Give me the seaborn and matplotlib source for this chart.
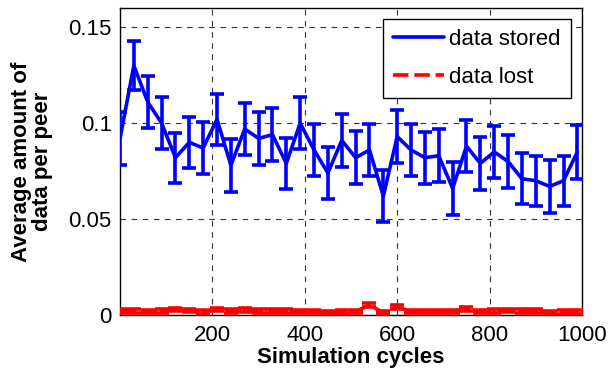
import numpy as np
import pandas as pd
import matplotlib
matplotlib.use("Agg")
import matplotlib.pyplot as plt
import seaborn as sns

cycles = list(range(0, 1000, 30))
stored = [0.092, 0.130, 0.111, 0.100, 0.082, 0.090, 0.087, 0.102, 0.078, 0.097,
          0.092, 0.094, 0.079, 0.100, 0.086, 0.074, 0.091, 0.082, 0.086, 0.062,
          0.093, 0.086, 0.082, 0.083, 0.066, 0.088, 0.079, 0.085, 0.080, 0.071,
          0.070, 0.067, 0.070, 0.085]
stored_err = [0.0136, 0.0128, 0.0134, 0.0136, 0.0131, 0.0134, 0.0136, 0.0134, 0.0138, 0.0134,
              0.0137, 0.0138, 0.0134, 0.0134, 0.0135, 0.0136, 0.0137, 0.0138, 0.0137, 0.0136,
              0.0137, 0.0133, 0.0136, 0.0138, 0.0140, 0.0136, 0.0136, 0.0136, 0.0136, 0.0134,
              0.0131, 0.0136, 0.0131, 0.0139]
lost = [0.0020, 0.0020, 0.0018, 0.0020, 0.0030, 0.0024, 0.0016, 0.0030, 0.0022, 0.0026,
        0.0022, 0.0020, 0.0020, 0.0017, 0.0017, 0.0014, 0.0016, 0.0018, 0.0052, 0.0012,
        0.0042, 0.0018, 0.0017, 0.0017, 0.0017, 0.0032, 0.0017, 0.0020, 0.0024, 0.0020,
        0.0020, 0.0014, 0.0015, 0.0015]
lost_err = [0.0009] * 34

xticks = [200, 400, 600, 800, 1000]
yticks = [0, 0.05, 0.1, 0.15]
ytick_labels = ["0", "0.05", "0.1", "0.15"]

df = pd.DataFrame({"cycles": cycles * 2,
                   "value": stored + lost,
                   "series": ["data stored"] * len(cycles) + ["data lost"] * len(cycles)})

sns.set_style("white")
plt.rcParams["font.family"] = ["Liberation Sans", "DejaVu Sans"]
plt.rcParams["text.color"] = "black"
plt.rcParams["axes.labelcolor"] = "black"
plt.rcParams["xtick.color"] = "black"
plt.rcParams["ytick.color"] = "black"

fig = plt.figure(figsize=(6.08, 3.74), dpi=100)
ax = fig.add_axes([120 / 608, 1 - 315 / 374, 462 / 608, 307 / 374])

palette = {"data stored": "#0000ff", "data lost": "#ff0000"}
sns.lineplot(data=df, x="cycles", y="value", hue="series", style="series",
             palette=palette, dashes={"data stored": "", "data lost": (4.3, 1.6)},
             linewidth=2.6, errorbar=None, ax=ax, legend=True, zorder=3)

ax.errorbar(cycles, stored, yerr=stored_err, fmt="none", ecolor="#0000ff",
            elinewidth=2.6, capsize=5, capthick=2.6, zorder=3)
ax.errorbar(cycles, lost, yerr=lost_err, fmt="none", ecolor="#ff0000",
            elinewidth=2.6, capsize=5, capthick=2.6, zorder=3)

ax.set_xlim(0, 1000)
ax.set_ylim(0, 0.16)
ax.set_xticks(xticks)
ax.set_yticks(yticks)
ax.set_yticklabels(ytick_labels)
ax.tick_params(direction="in", labelsize=16, length=4, color="black", labelcolor="black")
ax.tick_params(axis="x", pad=7)
ax.tick_params(axis="y", pad=6)
ax.grid(True, color="#333333", linestyle=(0, (5, 5)), linewidth=0.8)
ax.set_axisbelow(True)
for s in ax.spines.values():
    s.set_color("black")
    s.set_linewidth(1.0)

ax.set_xlabel("Simulation cycles", fontsize=16, fontweight="bold", labelpad=1, color="black")
ax.set_ylabel("Average amount of\ndata per peer", fontsize=16, fontweight="bold",
              labelpad=11, linespacing=1.0, color="black")

leg = ax.legend(loc="upper right", fontsize=16, frameon=True, fancybox=False,
                edgecolor="black", framealpha=1, handlelength=2.3, handletextpad=0.25,
                borderpad=0.45, labelspacing=0.75, borderaxespad=0.5)
leg.get_frame().set_linewidth(1.0)
for t in leg.get_texts():
    t.set_color("black")

fig.savefig("out.png", dpi=100)
